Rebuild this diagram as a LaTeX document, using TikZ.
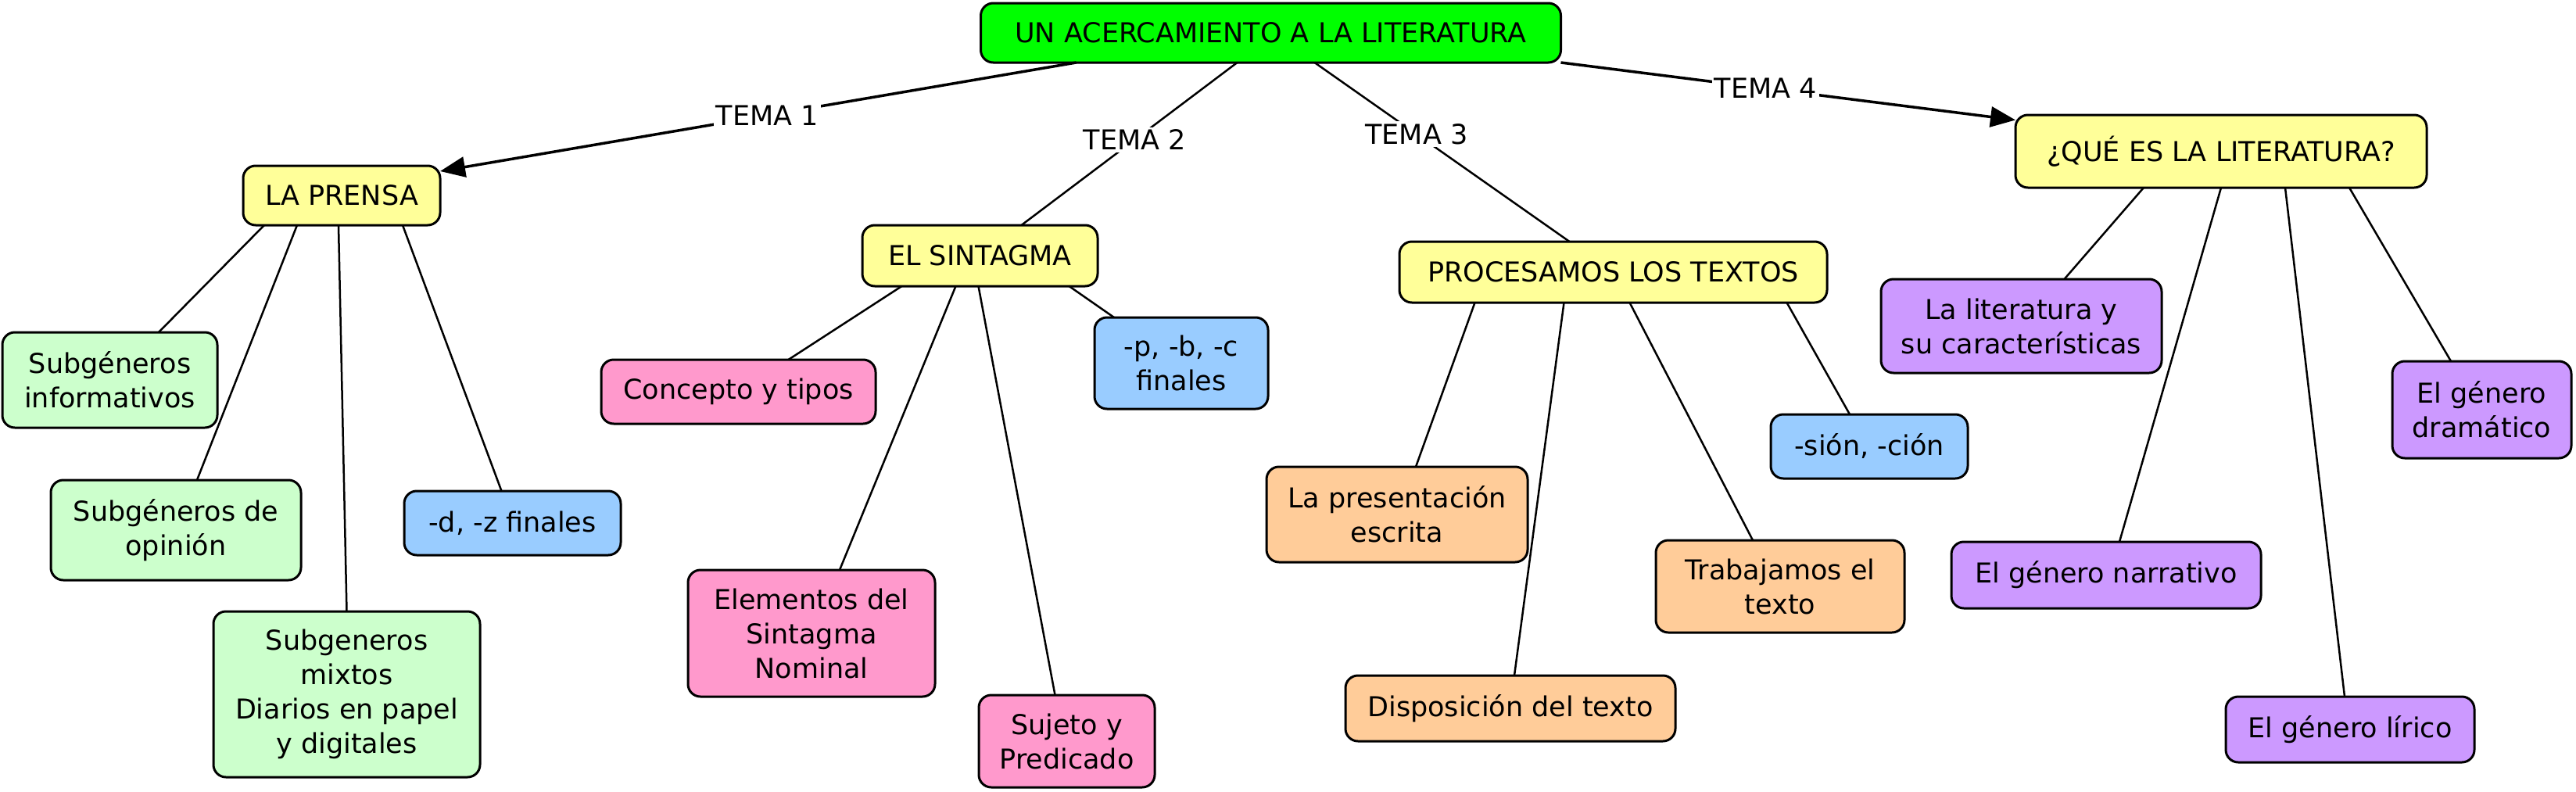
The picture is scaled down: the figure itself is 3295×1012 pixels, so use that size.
\documentclass[tikz,border=0pt]{standalone}
\usepackage{fontspec}
\setmainfont{DejaVu Sans}
\usetikzlibrary{arrows.meta}
\definecolor{cgreen}{HTML}{00FF00}
\definecolor{cyellow}{HTML}{FFFF99}
\definecolor{clgreen}{HTML}{CCFFCC}
\definecolor{cblue}{HTML}{99CCFF}
\definecolor{cpink}{HTML}{FF99CC}
\definecolor{corange}{HTML}{FFCC99}
\definecolor{cpurple}{HTML}{CC99FF}
\tikzset{
  box/.style={draw, rounded corners=16pt, line width=3pt, align=center, inner sep=0pt,
    font=\fontsize{35}{44}\selectfont},
  sz/.style 2 args={minimum width=#1pt, minimum height=#2pt},
  conn/.style={line width=2.5pt},
  arr/.style={line width=3.5pt, -{Triangle[length=32pt,width=26pt]}},
  lbl/.style={fill=white, inner sep=3pt, font=\fontsize{35}{44}\selectfont}
}
\begin{document}
\begin{tikzpicture}[x=1pt,y=-1pt]
\useasboundingbox (0,0) rectangle (3295,1012);
% main nodes
\node[box, fill=cgreen, sz={742}{76}] (root) at (1625.5,42) {UN ACERCAMIENTO A LA LITERATURA};
\node[box, fill=cyellow, sz={252}{76}] (prensa) at (437,250) {LA PRENSA};
\node[box, fill=cyellow, sz={301}{78}] (sint) at (1253.5,327) {EL SINTAGMA};
\node[box, fill=cyellow, sz={547}{78}] (proc) at (2063.5,348) {PROCESAMOS LOS TEXTOS};
\node[box, fill=cyellow, sz={526}{93}] (que) at (2841,193.5) {¿QUÉ ES LA LITERATURA?};
% prensa children
\node[box, fill=clgreen, sz={275}{122}] (infor) at (140.5,486) {Subgéneros\\informativos};
\node[box, fill=clgreen, sz={320}{128}] (opin) at (225,678) {Subgéneros de\\opinión};
\node[box, fill=clgreen, sz={341}{212}] (mixt) at (443.5,888) {Subgeneros\\mixtos\\Diarios en papel\\y digitales};
\node[box, fill=cblue, sz={277}{82}] (dz) at (655.5,669) {-d, -z finales};
% sintagma children
\node[box, fill=cpink, sz={351}{82}] (conc) at (944.5,501) {Concepto y tipos};
\node[box, fill=cblue, sz={222}{117}] (pbc) at (1511,464.5) {-p, -b, -c\\finales};
\node[box, fill=cpink, sz={316}{162}] (elem) at (1038,810) {Elementos del\\Sintagma\\Nominal};
\node[box, fill=cpink, sz={225}{118}] (suj) at (1364.5,948) {Sujeto y\\Predicado};
% proc children
\node[box, fill=corange, sz={334}{122}] (pres) at (1787,658) {La presentación\\escrita};
\node[box, fill=corange, sz={422}{84}] (disp) at (1932,906) {Disposición del texto};
\node[box, fill=corange, sz={318}{118}] (trab) at (2277,750) {Trabajamos el\\texto};
\node[box, fill=cblue, sz={252}{82}] (sion) at (2391,571) {-sión, -ción};
% que children
\node[box, fill=cpurple, sz={359}{120}] (lit) at (2585.5,417) {La literatura y\\su características};
\node[box, fill=cpurple, sz={396}{85}] (narr) at (2694,735.5) {El género narrativo};
\node[box, fill=cpurple, sz={318}{84}] (lir) at (3006,933) {El género lírico};
\node[box, fill=cpurple, sz={229}{124}] (dram) at (3174.5,524) {El género\\dramático};
% top connectors
\draw[arr] ([shift={(-249,38)}]root.center) -- node[lbl, pos=0.486]{TEMA 1} ([shift={(126,-31)}]prensa.center);
\draw[conn] ([shift={(-43,38)}]root.center) -- node[lbl, pos=0.476]{TEMA 2} ([shift={(53,-39)}]sint.center);
\draw[conn] ([shift={(56,38)}]root.center) -- node[lbl, pos=0.40]{TEMA 3} ([shift={(-56,-39)}]proc.center);
\draw[arr] ([shift={(371,38)}]root.center) -- node[lbl, pos=0.45]{TEMA 4} ([shift={(-263,-40)}]que.center);
% prensa connectors
\draw[conn] ([shift={(-99,38)}]prensa.center) -- ([shift={(62.5,-61)}]infor.center);
\draw[conn] ([shift={(-57,38)}]prensa.center) -- ([shift={(27,-64)}]opin.center);
\draw[conn] ([shift={(-4,38)}]prensa.center) -- ([shift={(0,-106)}]mixt.center);
\draw[conn] ([shift={(78,38)}]prensa.center) -- ([shift={(-14,-41)}]dz.center);
% sintagma connectors
\draw[conn] ([shift={(-100,39)}]sint.center) -- ([shift={(64,-41)}]conc.center);
\draw[conn] ([shift={(114,39)}]sint.center) -- ([shift={(-86,-58.5)}]pbc.center);
\draw[conn] ([shift={(-31,39)}]sint.center) -- ([shift={(36,-81)}]elem.center);
\draw[conn] ([shift={(-2,39)}]sint.center) -- ([shift={(-15,-59)}]suj.center);
% proc connectors
\draw[conn] ([shift={(-177,39)}]proc.center) -- ([shift={(24,-61)}]pres.center);
\draw[conn] ([shift={(-63,39)}]proc.center) -- ([shift={(5,-42)}]disp.center);
\draw[conn] ([shift={(21,39)}]proc.center) -- ([shift={(-35,-59)}]trab.center);
\draw[conn] ([shift={(222,39)}]proc.center) -- ([shift={(-25,-41)}]sion.center);
% que connectors
\draw[conn] ([shift={(-99,46.5)}]que.center) -- ([shift={(55,-60)}]lit.center);
\draw[conn] ([shift={(0,46.5)}]que.center) -- ([shift={(17,-42.5)}]narr.center);
\draw[conn] ([shift={(82,46.5)}]que.center) -- ([shift={(-7,-42)}]lir.center);
\draw[conn] ([shift={(164,46.5)}]que.center) -- ([shift={(-39.5,-62)}]dram.center);
\end{tikzpicture}
\end{document}
